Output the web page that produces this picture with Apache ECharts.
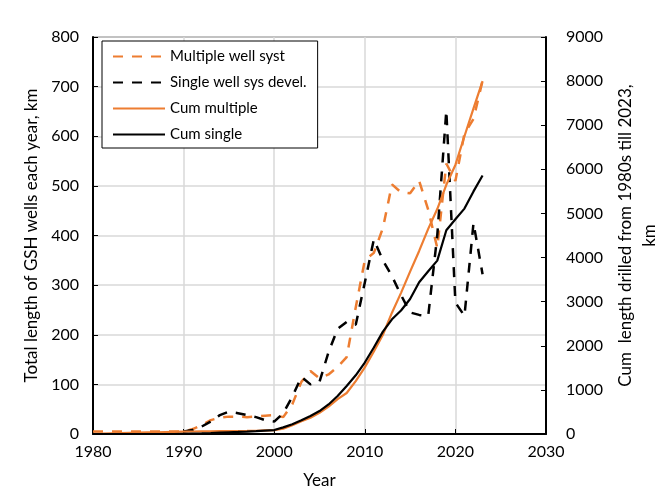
<!DOCTYPE html>
<html>
<head>
<meta charset="utf-8">
<script src="https://cdn.jsdelivr.net/npm/echarts@6/dist/echarts.min.js"></script>
<style>
  html, body { margin: 0; padding: 0; background: #fff; }
  #chart { width: 670px; height: 498px; }
</style>
</head>
<body>
<div id="chart"></div>
<script>
const years = [
  1980, 1981, 1982, 1983, 1984, 1985, 1986, 1987, 1988, 1989,
  1990, 1991, 1992, 1993, 1994, 1995, 1996, 1997, 1998, 1999,
  2000, 2001, 2002, 2003, 2004, 2005, 2006, 2007, 2008, 2009,
  2010, 2011, 2012, 2013, 2014, 2015, 2016, 2017, 2018, 2019,
  2020, 2021, 2022, 2023
];

// yearly length, km (left axis)
const multipleYearly = [
  5, 5, 5, 5, 5, 5, 5, 5, 5, 5,
  5, 10, 18, 28, 33, 35, 35, 34, 35, 37,
  38, 34, 60, 105, 127, 112, 120, 135, 155, 255,
  350, 365, 415, 503, 487, 485, 510, 452, 375, 545,
  510, 605, 635, 712
];
const singleYearly = [
  null, null, null, null, null, null, null, null, null, null,
  5, 8, 15, 25, 38, 45, 42, 38, 34, 28,
  25, 42, 75, 115, 100, 105, 165, 212, 226, 220,
  305, 392, 350, 318, 280, 245, 240, 238, 400, 652,
  265, 238, 425, 322
];

// cumulative length, km (right axis)
const cumMultiple = [
  5, 10, 15, 20, 25, 30, 35, 40, 45, 50,
  55, 57, 59, 61, 63, 65, 67, 70, 74, 80,
  85, 120, 200, 290, 370, 480, 620, 790, 930, 1200,
  1510, 1870, 2250, 2750, 3200, 3680, 4150, 4650, 5100, 5650,
  6100, 6750, 7380, 8000
];
const cumSingle = [
  0, 0, 0, 0, 0, 0, 0, 0, 0, 0,
  5, 10, 15, 22, 30, 38, 46, 55, 65, 78,
  90, 150, 220, 310, 410, 520, 670, 860, 1090, 1330,
  1620, 1960, 2320, 2600, 2800, 3060, 3440, 3690, 3930, 4620,
  4870, 5110, 5500, 5860
];

const seriesNames = ['Multiple well syst', 'Single well sys devel.', 'Cum multiple', 'Cum single'];
const orange = '#ED7D31';
const font = 'Lato';
const dash = [10, 9];

const pairs = vals => years.map((y, i) => [y, vals[i]]);
const plain = v => String(v);

const myChart = echarts.init(document.querySelector('#chart'), null, { renderer: 'canvas' });

const axisText = { color: '#000', fontFamily: font, fontSize: 16, formatter: plain };

myChart.setOption({
  animation: false,
  textStyle: { fontFamily: font },
  grid: {
    left: 93, right: 122, top: 37, bottom: 64,
    show: true, borderColor: '#000', borderWidth: 1
  },
  legend: {
    data: seriesNames,
    orient: 'vertical',
    left: 102, top: 41,
    itemWidth: 52, itemHeight: 14, itemGap: 11,
    padding: [8, 11, 6, 10],
    backgroundColor: '#fff',
    borderColor: '#000', borderWidth: 1,
    itemStyle: { opacity: 0 },
    textStyle: { color: '#000', fontFamily: font, fontSize: 15 },
    z: 10
  },
  xAxis: {
    type: 'value',
    min: 1980, max: 2030, interval: 10,
    name: 'Year', nameLocation: 'middle', nameGap: 38,
    nameTextStyle: { color: '#000', fontFamily: font, fontSize: 17 },
    axisLine: { lineStyle: { color: '#000', width: 2 } },
    axisTick: { inside: true, length: 5, lineStyle: { color: '#000' } },
    axisLabel: { ...axisText, margin: 10 },
    splitLine: { show: true, lineStyle: { color: '#d9d9d9', width: 1.5 } }
  },
  yAxis: [
    {
      type: 'value', position: 'left',
      min: 0, max: 800, interval: 100,
      name: 'Total length of GSH wells each year, km',
      nameLocation: 'middle', nameGap: 52, nameRotate: 90,
      nameTextStyle: { color: '#000', fontFamily: font, fontSize: 17 },
      axisLine: { show: true, lineStyle: { color: '#000', width: 2 } },
      axisTick: { show: true, inside: true, length: 5, lineStyle: { color: '#000' } },
      axisLabel: { ...axisText, margin: 14 },
      splitLine: { show: true, lineStyle: { color: '#d9d9d9', width: 1.5 } }
    },
    {
      type: 'value', position: 'right',
      min: 0, max: 9000, interval: 1000,
      name: 'Cum  length drilled from 1980s till 2023,\nkm',
      nameLocation: 'middle', nameGap: 62, nameRotate: 90,
      nameTextStyle: { color: '#000', fontFamily: font, fontSize: 17, lineHeight: 24 },
      axisLine: { show: true, lineStyle: { color: '#000', width: 2 } },
      axisTick: { show: true, inside: true, length: 5, lineStyle: { color: '#000' } },
      axisLabel: { ...axisText, margin: 20 },
      splitLine: { show: false }
    }
  ],
  series: [
    {
      name: seriesNames[0], type: 'line', yAxisIndex: 0,
      data: pairs(multipleYearly), symbol: 'none',
      itemStyle: { color: orange },
      lineStyle: { color: orange, width: 2.5, type: dash }
    },
    {
      name: seriesNames[1], type: 'line', yAxisIndex: 0,
      data: pairs(singleYearly), symbol: 'none',
      itemStyle: { color: '#000' },
      lineStyle: { color: '#000', width: 2.5, type: dash }
    },
    {
      name: seriesNames[2], type: 'line', yAxisIndex: 1,
      data: pairs(cumMultiple), symbol: 'none',
      itemStyle: { color: orange },
      lineStyle: { color: orange, width: 2.2 }
    },
    {
      name: seriesNames[3], type: 'line', yAxisIndex: 1,
      data: pairs(cumSingle), symbol: 'none',
      itemStyle: { color: '#000' },
      lineStyle: { color: '#000', width: 2.2 }
    }
  ]
});
</script>
</body>
</html>
